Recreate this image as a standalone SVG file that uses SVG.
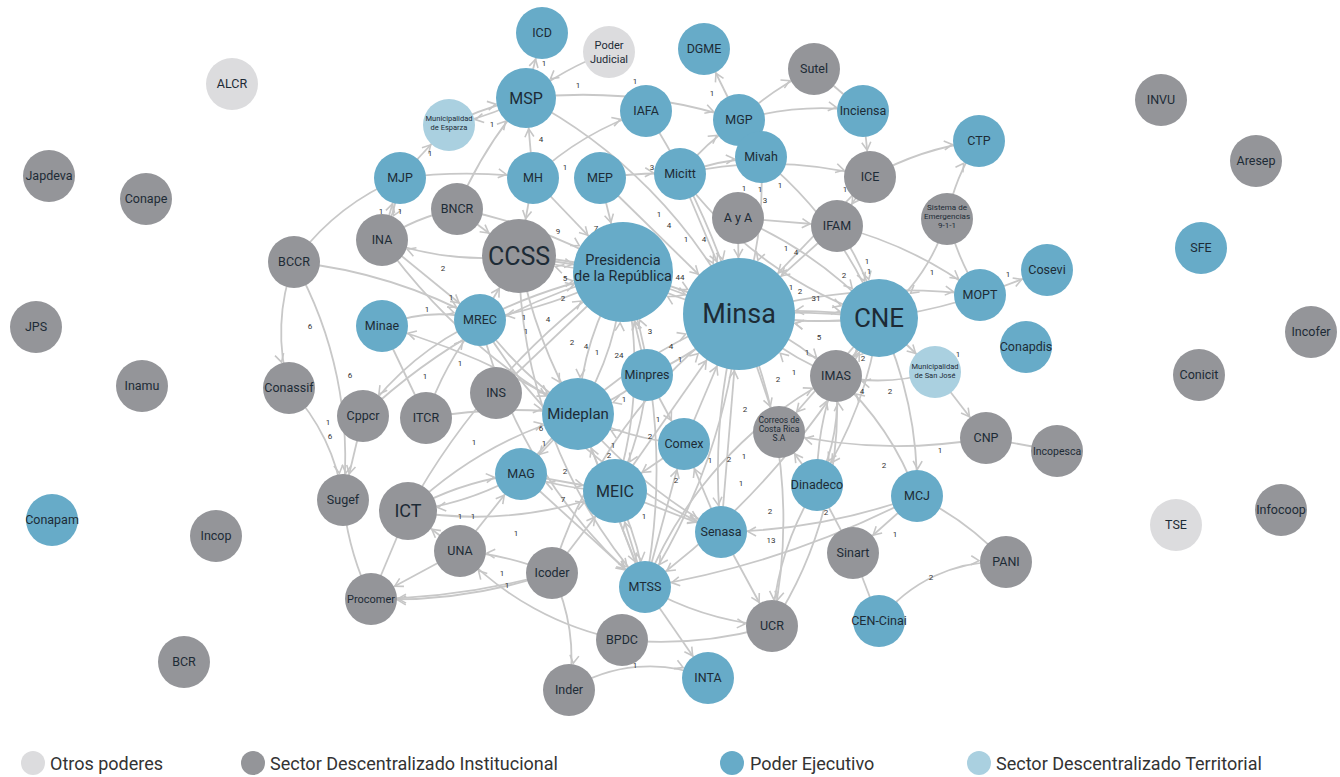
<svg xmlns="http://www.w3.org/2000/svg" width="1340" height="777" viewBox="0 0 1340 777">
<style>
  .bg{fill:#ffffff}
  #connectors path{fill:none;stroke:#c8c8c8;stroke-width:1.8}
  .pe circle{fill:#67abc8}
  .sdi circle{fill:#949599}
  .op circle{fill:#dcdcde}
  .sdt circle{fill:#aad0e0}
  text{font-family:Roboto,"Liberation Sans",sans-serif;fill:#1d2b36;text-anchor:middle}
  .n{font-size:12.5px}
  .s{font-size:8px}
  .w text{font-size:8px;fill:#333}
  .leg{font-size:18px;text-anchor:start;fill:#333}
</style>
<defs>
  <marker id="m26" markerUnits="userSpaceOnUse" markerWidth="12" markerHeight="12" refX="27" refY="0" orient="auto" overflow="visible"><path d="M-8,-4.5 L0,0 L-8,4.5" fill="none" stroke="#c6c6c6" stroke-width="1.6"/></marker>
  <marker id="m29" markerUnits="userSpaceOnUse" markerWidth="12" markerHeight="12" refX="30" refY="0" orient="auto" overflow="visible"><path d="M-8,-4.5 L0,0 L-8,4.5" fill="none" stroke="#c6c6c6" stroke-width="1.6"/></marker>
  <marker id="m30" markerUnits="userSpaceOnUse" markerWidth="12" markerHeight="12" refX="31" refY="0" orient="auto" overflow="visible"><path d="M-8,-4.5 L0,0 L-8,4.5" fill="none" stroke="#c6c6c6" stroke-width="1.6"/></marker>
  <marker id="m32" markerUnits="userSpaceOnUse" markerWidth="12" markerHeight="12" refX="33" refY="0" orient="auto" overflow="visible"><path d="M-8,-4.5 L0,0 L-8,4.5" fill="none" stroke="#c6c6c6" stroke-width="1.6"/></marker>
  <marker id="m36" markerUnits="userSpaceOnUse" markerWidth="12" markerHeight="12" refX="37" refY="0" orient="auto" overflow="visible"><path d="M-8,-4.5 L0,0 L-8,4.5" fill="none" stroke="#c6c6c6" stroke-width="1.6"/></marker>
  <marker id="m37" markerUnits="userSpaceOnUse" markerWidth="12" markerHeight="12" refX="38" refY="0" orient="auto" overflow="visible"><path d="M-8,-4.5 L0,0 L-8,4.5" fill="none" stroke="#c6c6c6" stroke-width="1.6"/></marker>
  <marker id="m39" markerUnits="userSpaceOnUse" markerWidth="12" markerHeight="12" refX="40" refY="0" orient="auto" overflow="visible"><path d="M-8,-4.5 L0,0 L-8,4.5" fill="none" stroke="#c6c6c6" stroke-width="1.6"/></marker>
  <marker id="m50" markerUnits="userSpaceOnUse" markerWidth="12" markerHeight="12" refX="51" refY="0" orient="auto" overflow="visible"><path d="M-8,-4.5 L0,0 L-8,4.5" fill="none" stroke="#c6c6c6" stroke-width="1.6"/></marker>
  <marker id="m56" markerUnits="userSpaceOnUse" markerWidth="12" markerHeight="12" refX="57" refY="0" orient="auto" overflow="visible"><path d="M-8,-4.5 L0,0 L-8,4.5" fill="none" stroke="#c6c6c6" stroke-width="1.6"/></marker>
</defs>
<rect class="bg" x="0" y="0" width="1340" height="777"/>

<!-- connectors -->
<g id="connectors">
  <path d="M609,52 A300,300 0 0,0 526,98" marker-end="url(#m30)"/>
  <path d="M526,98 L542,33" marker-end="url(#m26)"/>
  <path d="M526,98 A500,500 0 0,1 739,120" marker-end="url(#m26)"/>
  <path d="M739,120 L704,49" marker-end="url(#m26)"/>
  <path d="M449,125 A300,300 0 0,1 526,98" marker-end="url(#m30)"/>
  <path d="M526,98 A300,300 0 0,1 449,125" marker-end="url(#m26)"/>
  <path d="M400,178 L449,125" marker-end="url(#m26)"/>
  <path d="M400,178 A500,500 0 0,1 533,178" marker-end="url(#m26)"/>
  <path d="M382,240 L400,178" marker-end="url(#m26)"/>
  <path d="M400,178 A200,200 0 0,1 382,240" marker-end="url(#m26)"/>
  <path d="M294,262 A250,250 0 0,1 400,178"/>
  <path d="M457,209 A400,400 0 0,1 526,98" marker-end="url(#m30)"/>
  <path d="M533,178 L526,98" marker-end="url(#m30)"/>
  <path d="M533,178 A300,300 0 0,1 646,111" marker-end="url(#m26)"/>
  <path d="M646,111 A800,800 0 0,1 739,314" marker-end="url(#m56)"/>
  <path d="M526,98 A500,500 0 0,1 739,314" marker-end="url(#m56)"/>
  <path d="M739,120 A300,300 0 0,1 814,69" marker-end="url(#m26)"/>
  <path d="M739,120 A300,300 0 0,1 863,111" marker-end="url(#m26)"/>
  <path d="M814,69 L863,111"/>
  <path d="M863,111 L870,177" marker-end="url(#m26)"/>
  <path d="M870,177 A300,300 0 0,1 979,141" marker-end="url(#m26)"/>
  <path d="M947,219 A200,200 0 0,1 979,141" marker-end="url(#m26)"/>
  <path d="M947,219 A200,200 0 0,1 879,318" marker-end="url(#m39)"/>
  <path d="M980,295 L1047,270" marker-end="url(#m26)"/>
  <path d="M947,219 A300,300 0 0,0 980,295"/>
  <path d="M837,226 A400,400 0 0,1 980,295" marker-end="url(#m26)"/>
  <path d="M739,314 A600,600 0 0,1 980,295" marker-end="url(#m26)"/>
  <path d="M980,295 A500,500 0 0,1 739,314" marker-end="url(#m56)"/>
  <path d="M935,372 L986,438" marker-end="url(#m26)"/>
  <path d="M935,372 A200,200 0 0,1 836,376" marker-end="url(#m26)"/>
  <path d="M879,318 L935,372" marker-end="url(#m26)"/>
  <path d="M986,438 A500,500 0 0,1 779,432" marker-end="url(#m26)"/>
  <path d="M986,438 L1057,451"/>
  <path d="M917,496 L853,553" marker-end="url(#m26)"/>
  <path d="M917,496 A300,300 0 0,1 1006,562"/>
  <path d="M879,621 A150,150 0 0,1 1006,562" marker-end="url(#m26)"/>
  <path d="M853,553 L879,621"/>
  <path d="M817,485 L853,553"/>
  <path d="M917,496 A300,300 0 0,0 836,376" marker-end="url(#m26)"/>
  <path d="M917,496 A600,600 0 0,1 721,532" marker-end="url(#m26)"/>
  <path d="M917,496 A900,900 0 0,1 645,587" marker-end="url(#m26)"/>
  <path d="M836,376 A200,200 0 0,1 817,485" marker-end="url(#m26)"/>
  <path d="M817,485 A300,300 0 0,1 836,376" marker-end="url(#m26)"/>
  <path d="M817,485 L779,432" marker-end="url(#m26)"/>
  <path d="M817,485 A300,300 0 0,0 772,626" marker-end="url(#m26)"/>
  <path d="M721,532 L772,626" marker-end="url(#m26)"/>
  <path d="M645,587 A300,300 0 0,0 772,626" marker-end="url(#m26)"/>
  <path d="M622,640 A400,400 0 0,0 772,626"/>
  <path d="M569,690 A150,150 0 0,1 708,678" marker-end="url(#m26)"/>
  <path d="M645,587 L708,678" marker-end="url(#m26)"/>
  <path d="M552,573 A200,200 0 0,1 569,690" marker-end="url(#m26)"/>
  <path d="M622,640 A300,300 0 0,1 460,551" marker-end="url(#m26)"/>
  <path d="M552,573 A500,500 0 0,1 371,599" marker-end="url(#m26)"/>
  <path d="M552,573 A700,700 0 0,1 371,599" marker-end="url(#m26)"/>
  <path d="M552,573 A300,300 0 0,0 460,551" marker-end="url(#m26)"/>
  <path d="M460,551 L371,599" marker-end="url(#m26)"/>
  <path d="M408,511 L371,599"/>
  <path d="M343,500 A300,300 0 0,0 371,599"/>
  <path d="M294,262 A200,200 0 0,0 289,388" marker-end="url(#m26)"/>
  <path d="M294,262 A400,400 0 0,1 343,500" marker-end="url(#m26)"/>
  <path d="M289,388 A200,200 0 0,1 343,500" marker-end="url(#m26)"/>
  <path d="M363,416 L343,500" marker-end="url(#m26)"/>
  <path d="M294,262 A500,500 0 0,1 480,320" marker-end="url(#m26)"/>
  <path d="M519,256 A300,300 0 0,1 382,240" marker-end="url(#m26)"/>
  <path d="M382,240 A200,200 0 0,1 457,209"/>
  <path d="M382,326 A150,150 0 0,1 480,320" marker-end="url(#m26)"/>
  <path d="M578,414 A700,700 0 0,0 382,326" marker-end="url(#m26)"/>
  <path d="M480,320 A300,300 0 0,0 363,416" marker-end="url(#m26)"/>
  <path d="M426,418 L382,326"/>
  <path d="M426,418 A300,300 0 0,1 480,320" marker-end="url(#m26)"/>
  <path d="M408,511 A400,400 0 0,1 578,414" marker-end="url(#m36)"/>
  <path d="M408,511 A300,300 0 0,1 521,474" marker-end="url(#m26)"/>
  <path d="M521,474 A300,300 0 0,1 408,511" marker-end="url(#m29)"/>
  <path d="M408,511 A400,400 0 0,0 615,491" marker-end="url(#m32)"/>
  <path d="M521,474 L615,491" marker-end="url(#m32)"/>
  <path d="M615,491 A300,300 0 0,1 521,474" marker-end="url(#m26)"/>
  <path d="M460,551 L521,474" marker-end="url(#m26)"/>
  <path d="M460,551 L408,511" marker-end="url(#m29)"/>
  <path d="M552,573 L615,491" marker-end="url(#m32)"/>
  <path d="M645,587 L615,491" marker-end="url(#m32)"/>
  <path d="M615,491 A300,300 0 0,1 645,587" marker-end="url(#m26)"/>
  <path d="M623,272 L739,314" marker-end="url(#m56)"/>
  <path d="M739,314 A400,400 0 0,1 623,272" marker-end="url(#m50)"/>
  <path d="M739,314 A500,500 0 0,1 879,318" marker-end="url(#m39)"/>
  <path d="M879,318 A500,500 0 0,1 739,314" marker-end="url(#m56)"/>
  <path d="M879,318 A800,800 0 0,0 739,314" marker-end="url(#m56)"/>
  <path d="M519,256 L623,272" marker-end="url(#m50)"/>
  <path d="M623,272 A400,400 0 0,1 519,256" marker-end="url(#m37)"/>
  <path d="M519,256 A600,600 0 0,1 739,314" marker-end="url(#m56)"/>
  <path d="M480,320 A500,500 0 0,1 623,272" marker-end="url(#m50)"/>
  <path d="M623,272 A500,500 0 0,1 480,320" marker-end="url(#m26)"/>
  <path d="M480,320 L519,256" marker-end="url(#m37)"/>
  <path d="M480,320 A400,400 0 0,0 578,414" marker-end="url(#m36)"/>
  <path d="M623,272 A300,300 0 0,0 578,414" marker-end="url(#m36)"/>
  <path d="M578,414 A300,300 0 0,0 623,272" marker-end="url(#m50)"/>
  <path d="M647,375 L623,272" marker-end="url(#m50)"/>
  <path d="M647,375 A300,300 0 0,0 739,314" marker-end="url(#m56)"/>
  <path d="M647,375 A200,200 0 0,1 578,414" marker-end="url(#m36)"/>
  <path d="M684,444 A300,300 0 0,1 578,414" marker-end="url(#m36)"/>
  <path d="M684,444 L739,314" marker-end="url(#m56)"/>
  <path d="M684,444 L615,491" marker-end="url(#m32)"/>
  <path d="M739,314 A300,300 0 0,1 836,376" marker-end="url(#m26)"/>
  <path d="M836,376 A300,300 0 0,1 739,314" marker-end="url(#m56)"/>
  <path d="M739,314 L779,432" marker-end="url(#m26)"/>
  <path d="M739,314 A600,600 0 0,0 721,532" marker-end="url(#m26)"/>
  <path d="M739,314 A600,600 0 0,1 645,587" marker-end="url(#m26)"/>
  <path d="M739,314 A500,500 0 0,1 772,626" marker-end="url(#m26)"/>
  <path d="M600,178 L739,314" marker-end="url(#m56)"/>
  <path d="M600,178 L623,272" marker-end="url(#m50)"/>
  <path d="M600,178 A400,400 0 0,1 680,174" marker-end="url(#m26)"/>
  <path d="M680,174 L739,314" marker-end="url(#m56)"/>
  <path d="M680,174 A400,400 0 0,0 879,318" marker-end="url(#m39)"/>
  <path d="M680,174 A400,400 0 0,1 870,177" marker-end="url(#m26)"/>
  <path d="M680,174 A300,300 0 0,1 739,120" marker-end="url(#m26)"/>
  <path d="M680,174 A300,300 0 0,1 761,157" marker-end="url(#m26)"/>
  <path d="M533,178 L623,272" marker-end="url(#m50)"/>
  <path d="M533,178 L519,256" marker-end="url(#m37)"/>
  <path d="M738,218 L739,314" marker-end="url(#m56)"/>
  <path d="M738,218 A400,400 0 0,1 879,318" marker-end="url(#m39)"/>
  <path d="M738,218 L837,226" marker-end="url(#m26)"/>
  <path d="M837,226 A300,300 0 0,1 879,318" marker-end="url(#m39)"/>
  <path d="M837,226 L739,314" marker-end="url(#m56)"/>
  <path d="M870,177 L739,314" marker-end="url(#m56)"/>
  <path d="M870,177 L837,226" marker-end="url(#m26)"/>
  <path d="M761,157 A400,400 0 0,1 739,314" marker-end="url(#m56)"/>
  <path d="M761,157 A400,400 0 0,1 879,318" marker-end="url(#m39)"/>
  <path d="M879,318 A300,300 0 0,1 836,376" marker-end="url(#m26)"/>
  <path d="M836,376 A300,300 0 0,0 879,318" marker-end="url(#m39)"/>
  <path d="M879,318 L779,432" marker-end="url(#m26)"/>
  <path d="M879,318 A400,400 0 0,1 817,485" marker-end="url(#m26)"/>
  <path d="M879,318 A400,400 0 0,1 917,496" marker-end="url(#m26)"/>
  <path d="M879,318 A800,800 0 0,1 645,587" marker-end="url(#m26)"/>
  <path d="M578,414 L645,587" marker-end="url(#m26)"/>
  <path d="M578,414 L521,474" marker-end="url(#m26)"/>
  <path d="M578,414 A500,500 0 0,0 721,532" marker-end="url(#m26)"/>
  <path d="M615,491 L721,532" marker-end="url(#m26)"/>
  <path d="M615,491 A400,400 0 0,0 623,272" marker-end="url(#m50)"/>
  <path d="M615,491 L739,314" marker-end="url(#m56)"/>
  <path d="M721,532 L739,314" marker-end="url(#m56)"/>
  <path d="M721,532 L684,444" marker-end="url(#m26)"/>
  <path d="M457,209 L519,256" marker-end="url(#m37)"/>
  <path d="M457,209 A500,500 0 0,1 623,272" marker-end="url(#m50)"/>
  <path d="M382,240 L480,320" marker-end="url(#m26)"/>
  <path d="M382,240 A600,600 0 0,0 578,414" marker-end="url(#m36)"/>
  <path d="M496,393 L623,272"/>
  <path d="M426,418 A500,500 0 0,1 578,414" marker-end="url(#m36)"/>
  <path d="M363,416 A600,600 0 0,1 623,272" marker-end="url(#m50)"/>
  <path d="M408,511 A700,700 0 0,1 623,272" marker-end="url(#m50)"/>
  <path d="M645,587 L684,444" marker-end="url(#m26)"/>
  <path d="M645,587 A400,400 0 0,1 836,376" marker-end="url(#m26)"/>
  <path d="M645,587 A600,600 0 0,0 623,272" marker-end="url(#m50)"/>
  <path d="M645,587 L578,414" marker-end="url(#m36)"/>
  <path d="M772,626 A400,400 0 0,0 836,376" marker-end="url(#m26)"/>
  <path d="M521,474 A500,500 0 0,1 739,314" marker-end="url(#m56)"/>
  <path d="M521,474 L645,587" marker-end="url(#m26)"/>
  <path d="M552,573 A500,500 0 0,1 739,314"/>
  <path d="M647,375 L684,444" marker-end="url(#m26)"/>
  <path d="M647,375 A300,300 0 0,1 615,491" marker-end="url(#m32)"/>
  <path d="M480,320 A500,500 0 0,0 645,587" marker-end="url(#m26)"/>
  <path d="M480,320 A500,500 0 0,0 721,532" marker-end="url(#m26)"/>
  <path d="M519,256 A500,500 0 0,0 645,587" marker-end="url(#m26)"/>
  <path d="M519,256 A500,500 0 0,0 578,414" marker-end="url(#m36)"/>
</g>

<!-- connector weights -->
<g id="weights" class="w">
  <text x="578" y="88">1</text><text x="544" y="66">1</text><text x="635" y="84">1</text>
  <text x="712" y="96">1</text><text x="492" y="127">1</text><text x="430" y="156">1</text>
  <text x="381" y="214">1</text><text x="400" y="214">1</text><text x="541" y="142">4</text>
  <text x="565" y="170">1</text><text x="652" y="170">3</text><text x="744" y="191">1</text>
  <text x="760" y="192">1</text><text x="780" y="188">1</text><text x="765" y="203">3</text>
  <text x="845" y="192">1</text><text x="932" y="275">1</text><text x="1008" y="277">1</text>
  <text x="786" y="251">1</text><text x="796" y="255">4</text><text x="844" y="278">2</text>
  <text x="867" y="264">1</text><text x="869" y="274">1</text><text x="791" y="290">1</text>
  <text x="800" y="294">2</text><text x="816" y="301">31</text><text x="819" y="340">5</text>
  <text x="807" y="355">1</text><text x="794" y="375">1</text><text x="863" y="361">2</text>
  <text x="862" y="394">4</text><text x="890" y="394">2</text><text x="917" y="360">1</text>
  <text x="958" y="357">1</text><text x="778" y="382">2</text><text x="745" y="412">2</text>
  <text x="772" y="442">1</text><text x="940" y="453">1</text><text x="884" y="468">2</text>
  <text x="895" y="537">1</text><text x="931" y="580">2</text><text x="826" y="515">2</text>
  <text x="771" y="543">13</text><text x="770" y="514">2</text><text x="741" y="486">1</text>
  <text x="744" y="459">1</text><text x="729" y="462">2</text><text x="658" y="422">1</text>
  <text x="624" y="402">1</text><text x="597" y="355">1</text><text x="619" y="358">24</text>
  <text x="671" y="349">4</text><text x="680" y="362">1</text><text x="650" y="334">3</text>
  <text x="680" y="280">44</text><text x="565" y="281">5</text><text x="563" y="301">2</text>
  <text x="548" y="322">4</text><text x="572" y="345">2</text><text x="586" y="349">4</text>
  <text x="524" y="320">1</text><text x="526" y="334">1</text><text x="443" y="271">2</text>
  <text x="451" y="300">1</text><text x="427" y="312">1</text><text x="460" y="366">1</text>
  <text x="425" y="379">1</text><text x="474" y="445">1</text><text x="310" y="329">6</text>
  <text x="350" y="378">6</text><text x="328" y="425">1</text><text x="330" y="439">6</text>
  <text x="541" y="431">6</text><text x="544" y="446">1</text><text x="565" y="474">2</text>
  <text x="563" y="502">7</text><text x="460" y="519">1</text><text x="473" y="519">1</text>
  <text x="516" y="536">1</text><text x="502" y="576">1</text><text x="507" y="588">1</text>
  <text x="635" y="668">1</text><text x="644" y="519">1</text><text x="558" y="234">9</text>
  <text x="596" y="231">7</text><text x="659" y="217">1</text><text x="686" y="242">1</text>
  <text x="704" y="242">4</text><text x="669" y="228">4</text><text x="650" y="439">2</text>
  <text x="664" y="452">2</text><text x="609" y="430">2</text><text x="613" y="448">1</text>
  <text x="609" y="458">2</text><text x="676" y="483">2</text><text x="710" y="463">1</text>
</g>

<!-- nodes -->
<g id="n-icd" class="pe"><circle cx="542" cy="33" r="26"/><text class="n" x="542" y="33" dy="0.35em">ICD</text></g>
<g id="n-poder-judicial" class="op"><circle cx="609" cy="52" r="26"/><text class="n" x="609" y="49" style="font-size:11px">Poder</text><text class="n" x="609" y="63" style="font-size:11px">Judicial</text></g>
<g id="n-dgme" class="pe"><circle cx="704" cy="49" r="26"/><text class="n" x="704" y="49" dy="0.35em">DGME</text></g>
<g id="n-alcr" class="op"><circle cx="232" cy="84" r="26"/><text class="n" x="232" y="84" dy="0.35em">ALCR</text></g>
<g id="n-msp" class="pe"><circle cx="526" cy="98" r="30"/><text class="n" x="526" y="98" dy="0.35em" style="font-size:16px">MSP</text></g>
<g id="n-sutel" class="sdi"><circle cx="814" cy="69" r="26"/><text class="n" x="814" y="69" dy="0.35em">Sutel</text></g>
<g id="n-esparza" class="sdt"><circle cx="449" cy="125" r="26"/><text class="s" x="449" y="121" style="font-size:7.5px">Municipalidad</text><text class="s" x="449" y="130" style="font-size:7.5px">de Esparza</text></g>
<g id="n-iafa" class="pe"><circle cx="646" cy="111" r="26"/><text class="n" x="646" y="111" dy="0.35em">IAFA</text></g>
<g id="n-mgp" class="pe"><circle cx="739" cy="120" r="26"/><text class="n" x="739" y="120" dy="0.35em">MGP</text></g>
<g id="n-inciensa" class="pe"><circle cx="863" cy="111" r="26"/><text class="n" x="863" y="111" dy="0.35em">Inciensa</text></g>
<g id="n-invu" class="sdi"><circle cx="1161" cy="100" r="26"/><text class="n" x="1161" y="100" dy="0.35em">INVU</text></g>
<g id="n-ctp" class="pe"><circle cx="979" cy="141" r="26"/><text class="n" x="979" y="141" dy="0.35em">CTP</text></g>
<g id="n-aresep" class="sdi"><circle cx="1256" cy="161" r="26"/><text class="n" x="1256" y="161" dy="0.35em">Aresep</text></g>
<g id="n-japdeva" class="sdi"><circle cx="49" cy="176" r="26"/><text class="n" x="49" y="176" dy="0.35em">Japdeva</text></g>
<g id="n-conape" class="sdi"><circle cx="146" cy="199" r="26"/><text class="n" x="146" y="199" dy="0.35em">Conape</text></g>
<g id="n-mjp" class="pe"><circle cx="400" cy="178" r="26"/><text class="n" x="400" y="178" dy="0.35em">MJP</text></g>
<g id="n-mh" class="pe"><circle cx="533" cy="178" r="26"/><text class="n" x="533" y="178" dy="0.35em">MH</text></g>
<g id="n-mep" class="pe"><circle cx="600" cy="178" r="26"/><text class="n" x="600" y="178" dy="0.35em">MEP</text></g>
<g id="n-micitt" class="pe"><circle cx="680" cy="174" r="26"/><text class="n" x="680" y="174" dy="0.35em">Micitt</text></g>
<g id="n-mivah" class="pe"><circle cx="761" cy="157" r="26"/><text class="n" x="761" y="157" dy="0.35em">Mivah</text></g>
<g id="n-ice" class="sdi"><circle cx="870" cy="177" r="26"/><text class="n" x="870" y="177" dy="0.35em">ICE</text></g>
<g id="n-911" class="sdi"><circle cx="947" cy="219" r="26"/><text class="s" x="947" y="210">Sistema de</text><text class="s" x="947" y="219">Emergencias</text><text class="s" x="947" y="228">9-1-1</text></g>
<g id="n-bncr" class="sdi"><circle cx="457" cy="209" r="26"/><text class="n" x="457" y="209" dy="0.35em">BNCR</text></g>
<g id="n-aya" class="sdi"><circle cx="738" cy="218" r="26"/><text class="n" x="738" y="218" dy="0.35em">A y A</text></g>
<g id="n-ifam" class="sdi"><circle cx="837" cy="226" r="26"/><text class="n" x="837" y="226" dy="0.35em">IFAM</text></g>
<g id="n-ina" class="sdi"><circle cx="382" cy="240" r="26"/><text class="n" x="382" y="240" dy="0.35em">INA</text></g>
<g id="n-ccss" class="sdi"><circle cx="519" cy="256" r="37"/><text class="n" x="519" y="256" dy="0.35em" style="font-size:25px">CCSS</text></g>
<g id="n-presidencia" class="pe"><circle cx="623" cy="272" r="50"/><text class="n" x="623" y="265" style="font-size:14.5px">Presidencia</text><text class="n" x="623" y="281" style="font-size:14.5px">de la República</text></g>
<g id="n-minsa" class="pe"><circle cx="739" cy="314" r="56"/><text class="n" x="739" y="314" dy="0.35em" style="font-size:27px">Minsa</text></g>
<g id="n-cne" class="pe"><circle cx="879" cy="318" r="39"/><text class="n" x="879" y="318" dy="0.35em" style="font-size:26px">CNE</text></g>
<g id="n-bccr" class="sdi"><circle cx="294" cy="262" r="26"/><text class="n" x="294" y="262" dy="0.35em">BCCR</text></g>
<g id="n-sfe" class="pe"><circle cx="1201" cy="248" r="26"/><text class="n" x="1201" y="248" dy="0.35em">SFE</text></g>
<g id="n-cosevi" class="pe"><circle cx="1047" cy="270" r="26"/><text class="n" x="1047" y="270" dy="0.35em">Cosevi</text></g>
<g id="n-mopt" class="pe"><circle cx="980" cy="295" r="26"/><text class="n" x="980" y="295" dy="0.35em">MOPT</text></g>
<g id="n-jps" class="sdi"><circle cx="36" cy="327" r="26"/><text class="n" x="36" y="327" dy="0.35em">JPS</text></g>
<g id="n-incofer" class="sdi"><circle cx="1311" cy="332" r="26"/><text class="n" x="1311" y="332" dy="0.35em">Incofer</text></g>
<g id="n-minae" class="pe"><circle cx="382" cy="326" r="26"/><text class="n" x="382" y="326" dy="0.35em">Minae</text></g>
<g id="n-mrec" class="pe"><circle cx="480" cy="320" r="26"/><text class="n" x="480" y="320" dy="0.35em">MREC</text></g>
<g id="n-conapdis" class="pe"><circle cx="1026" cy="347" r="26"/><text class="n" x="1026" y="347" dy="0.35em">Conapdis</text></g>
<g id="n-sanjose" class="sdt"><circle cx="935" cy="372" r="26"/><text class="s" x="935" y="369" style="font-size:7.5px">Municipalidad</text><text class="s" x="935" y="378" style="font-size:7.5px">de San José</text></g>
<g id="n-minpres" class="pe"><circle cx="647" cy="375" r="26"/><text class="n" x="647" y="375" dy="0.35em">Minpres</text></g>
<g id="n-imas" class="sdi"><circle cx="836" cy="376" r="26"/><text class="n" x="836" y="376" dy="0.35em">IMAS</text></g>
<g id="n-conicit" class="sdi"><circle cx="1199" cy="375" r="26"/><text class="n" x="1199" y="375" dy="0.35em">Conicit</text></g>
<g id="n-inamu" class="sdi"><circle cx="142" cy="386" r="26"/><text class="n" x="142" y="386" dy="0.35em">Inamu</text></g>
<g id="n-conassif" class="sdi"><circle cx="289" cy="388" r="26"/><text class="n" x="289" y="388" dy="0.35em">Conassif</text></g>
<g id="n-ins" class="sdi"><circle cx="496" cy="393" r="26"/><text class="n" x="496" y="393" dy="0.35em">INS</text></g>
<g id="n-cppcr" class="sdi"><circle cx="363" cy="416" r="26"/><text class="n" x="363" y="416" dy="0.35em">Cppcr</text></g>
<g id="n-itcr" class="sdi"><circle cx="426" cy="418" r="26"/><text class="n" x="426" y="418" dy="0.35em">ITCR</text></g>
<g id="n-mideplan" class="pe"><circle cx="578" cy="414" r="36"/><text class="n" x="578" y="414" dy="0.35em" style="font-size:15px">Mideplan</text></g>
<g id="n-correos" class="sdi"><circle cx="779" cy="432" r="26"/><text class="s" x="779" y="423" style="font-size:8.5px">Correos de</text><text class="s" x="779" y="432" style="font-size:8.5px">Costa Rica</text><text class="s" x="779" y="441" style="font-size:8.5px">S.A</text></g>
<g id="n-comex" class="pe"><circle cx="684" cy="444" r="26"/><text class="n" x="684" y="444" dy="0.35em">Comex</text></g>
<g id="n-cnp" class="sdi"><circle cx="986" cy="438" r="26"/><text class="n" x="986" y="438" dy="0.35em">CNP</text></g>
<g id="n-incopesca" class="sdi"><circle cx="1057" cy="451" r="26"/><text class="n" x="1057" y="451" dy="0.35em" style="font-size:10.5px">Incopesca</text></g>
<g id="n-mag" class="pe"><circle cx="521" cy="474" r="26"/><text class="n" x="521" y="474" dy="0.35em">MAG</text></g>
<g id="n-meic" class="pe"><circle cx="615" cy="491" r="32"/><text class="n" x="615" y="491" dy="0.35em" style="font-size:16px">MEIC</text></g>
<g id="n-dinadeco" class="pe"><circle cx="817" cy="485" r="26"/><text class="n" x="817" y="485" dy="0.35em">Dinadeco</text></g>
<g id="n-mcj" class="pe"><circle cx="917" cy="496" r="26"/><text class="n" x="917" y="496" dy="0.35em">MCJ</text></g>
<g id="n-sugef" class="sdi"><circle cx="343" cy="500" r="26"/><text class="n" x="343" y="500" dy="0.35em">Sugef</text></g>
<g id="n-ict" class="sdi"><circle cx="408" cy="511" r="29"/><text class="n" x="408" y="511" dy="0.35em" style="font-size:18px">ICT</text></g>
<g id="n-senasa" class="pe"><circle cx="721" cy="532" r="26"/><text class="n" x="721" y="532" dy="0.35em">Senasa</text></g>
<g id="n-conapam" class="pe"><circle cx="52" cy="520" r="26"/><text class="n" x="52" y="520" dy="0.35em">Conapam</text></g>
<g id="n-incop" class="sdi"><circle cx="216" cy="536" r="26"/><text class="n" x="216" y="536" dy="0.35em">Incop</text></g>
<g id="n-infocoop" class="sdi"><circle cx="1281" cy="510" r="26"/><text class="n" x="1281" y="510" dy="0.35em">Infocoop</text></g>
<g id="n-tse" class="op"><circle cx="1176" cy="525" r="26"/><text class="n" x="1176" y="525" dy="0.35em">TSE</text></g>
<g id="n-una" class="sdi"><circle cx="460" cy="551" r="26"/><text class="n" x="460" y="551" dy="0.35em">UNA</text></g>
<g id="n-icoder" class="sdi"><circle cx="552" cy="573" r="26"/><text class="n" x="552" y="573" dy="0.35em">Icoder</text></g>
<g id="n-sinart" class="sdi"><circle cx="853" cy="553" r="26"/><text class="n" x="853" y="553" dy="0.35em">Sinart</text></g>
<g id="n-pani" class="sdi"><circle cx="1006" cy="562" r="26"/><text class="n" x="1006" y="562" dy="0.35em">PANI</text></g>
<g id="n-procomer" class="sdi"><circle cx="371" cy="599" r="26"/><text class="n" x="371" y="599" dy="0.35em" style="font-size:11px">Procomer</text></g>
<g id="n-mtss" class="pe"><circle cx="645" cy="587" r="26"/><text class="n" x="645" y="587" dy="0.35em">MTSS</text></g>
<g id="n-ucr" class="sdi"><circle cx="772" cy="626" r="26"/><text class="n" x="772" y="626" dy="0.35em">UCR</text></g>
<g id="n-cen-cinai" class="pe"><circle cx="879" cy="621" r="26"/><text class="n" x="879" y="621" dy="0.35em">CEN-Cinai</text></g>
<g id="n-bpdc" class="sdi"><circle cx="622" cy="640" r="26"/><text class="n" x="622" y="640" dy="0.35em">BPDC</text></g>
<g id="n-bcr" class="sdi"><circle cx="184" cy="662" r="26"/><text class="n" x="184" y="662" dy="0.35em">BCR</text></g>
<g id="n-inta" class="pe"><circle cx="708" cy="678" r="26"/><text class="n" x="708" y="678" dy="0.35em">INTA</text></g>
<g id="n-inder" class="sdi"><circle cx="569" cy="690" r="26"/><text class="n" x="569" y="690" dy="0.35em">Inder</text></g>

<!-- legend -->
<g id="legend">
  <circle cx="33" cy="763" r="12" fill="#dcdcde"/><text class="leg" x="50" y="770">Otros poderes</text>
  <circle cx="253" cy="763" r="12" fill="#949599"/><text class="leg" x="270" y="770">Sector Descentralizado Institucional</text>
  <circle cx="732" cy="763" r="12" fill="#67abc8"/><text class="leg" x="750" y="770">Poder Ejecutivo</text>
  <circle cx="979" cy="763" r="12" fill="#aad0e0"/><text class="leg" x="996" y="770">Sector Descentralizado Territorial</text>
</g>
</svg>
